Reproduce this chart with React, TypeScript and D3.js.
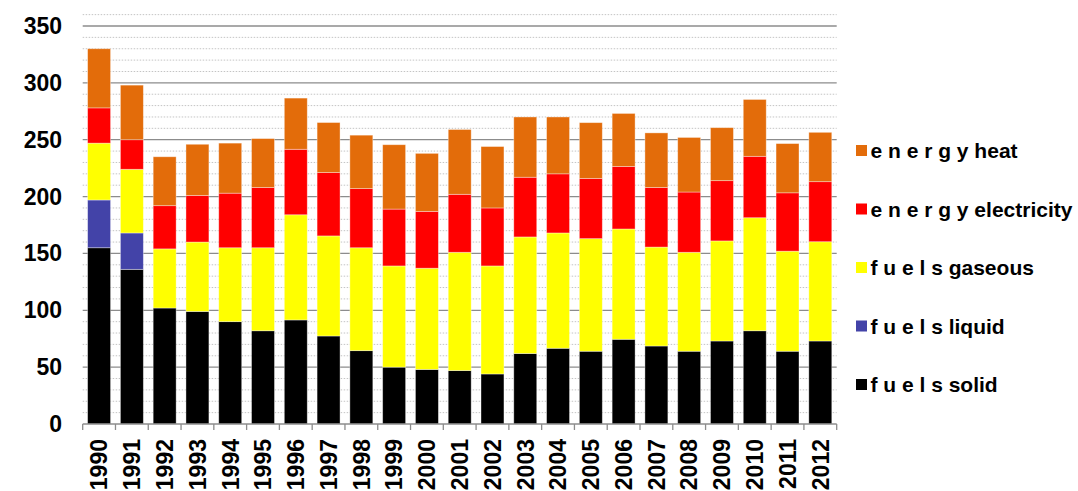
import React from "react";
import * as d3 from "d3";

const years = ["1990","1991","1992","1993","1994","1995","1996","1997","1998","1999","2000","2001","2002","2003","2004","2005","2006","2007","2008","2009","2010","2011","2012"];
const fuelsSolid = [155, 136, 102, 99, 90, 82, 91.5, 77.4, 64.5, 50, 48, 47, 44, 62, 66.6, 64, 74.5, 68.6, 64, 73, 82, 64, 73];
const fuelsLiquid = [42, 32, 0, 0, 0, 0, 0, 0, 0, 0, 0, 0, 0, 0, 0, 0, 0, 0, 0, 0, 0, 0, 0];
const fuelsGaseous = [50, 56, 52, 61, 65, 73, 92.5, 88, 90.5, 89, 89, 104, 95, 102.5, 101.4, 99, 97, 87, 87, 88, 99.4, 88, 87.3];
const energyElectricity = [31, 26, 38, 41, 48, 53, 57.6, 55.7, 52, 50, 50, 51, 51, 52.5, 52, 53, 55, 52.4, 53, 53, 54, 51.3, 52.8];
const energyHeat = [52, 48, 43, 45, 44, 43, 45, 44, 47, 56.6, 51, 57, 54, 53, 50, 49, 46.6, 48, 48, 46.6, 50, 43.3, 43.4];
const yTicks = [0, 50, 100, 150, 200, 250, 300, 350];

const seriesKeys = ["solid", "liquid", "gaseous", "electricity", "heat"];
const seriesColors: Record<string, string> = {
  solid: "#000000",
  liquid: "#4343A8",
  gaseous: "#FFFF00",
  electricity: "#FF0000",
  heat: "#E36C0A",
};
const legendItems = [
  { key: "heat", label: "e n e r g y heat" },
  { key: "electricity", label: "e n e r g y electricity" },
  { key: "gaseous", label: "f u e l s gaseous" },
  { key: "liquid", label: "f u e l s liquid" },
  { key: "solid", label: "f u e l s solid" },
];

export default function App() {
  const W = 1078, H = 491;
  const left = 82.7, right = 836.7, y0 = 424, y350 = 26;
  const font = "'Liberation Sans', Arial, sans-serif";

  const table = years.map((yr, i) => ({
    year: yr,
    solid: fuelsSolid[i],
    liquid: fuelsLiquid[i],
    gaseous: fuelsGaseous[i],
    electricity: energyElectricity[i],
    heat: energyHeat[i],
  }));

  const x = d3.scaleBand<string>().domain(years).range([left, right]).paddingInner(0.3).paddingOuter(0.15);
  const y = d3.scaleLinear().domain([0, 350]).range([y0, y350]);
  const stacked = d3.stack<any>().keys(seriesKeys)(table);

  const minor = d3.range(10, 361, 10).filter((v) => v % 50 !== 0);
  const step = x.step();
  const boundaries = d3.range(0, years.length + 1).map((i) => left + i * step);

  return (
    <svg width={W} height={H} style={{ position: "absolute", left: 0, top: 0, background: "#fff" }}>
      {minor.map((v) => (
        <line key={"m" + v} x1={left} x2={right} y1={y(v)} y2={y(v)} stroke="#c4c4c4" strokeWidth={1} strokeDasharray="1.5,1.5" />
      ))}
      {yTicks.filter((v) => v > 0).map((v) => (
        <line key={"g" + v} x1={left} x2={right} y1={y(v)} y2={y(v)} stroke="#8c8c8c" strokeWidth={1.3} />
      ))}
      {stacked.map((s) => (
        <g key={s.key} fill={seriesColors[s.key]}>
          {s.map((d, i) =>
            d[1] - d[0] > 0 ? (
              <rect key={i} x={x(years[i])!} width={x.bandwidth()} y={y(d[1])} height={y(d[0]) - y(d[1])}
                stroke="rgba(255,255,255,0.45)" strokeWidth={0.8} />
            ) : null
          )}
        </g>
      ))}
      <line x1={left} x2={right} y1={y0} y2={y0} stroke="#8c8c8c" strokeWidth={1.5} />
      {boundaries.map((bx, i) => (
        <line key={"t" + i} x1={bx} x2={bx} y1={y0} y2={y0 + 6} stroke="#8c8c8c" strokeWidth={1.3} />
      ))}
      {yTicks.map((v) => (
        <text key={"yl" + v} x={62} y={y(v)} dy="0.35em" textAnchor="end" fontFamily={font} fontWeight="bold" fontSize={23} fill="#000">
          {v}
        </text>
      ))}
      {years.map((yr) => {
        const cx = x(yr)! + x.bandwidth() / 2;
        return (
          <text key={"xl" + yr} transform={`translate(${cx},439) rotate(-90)`} dy="0.36em" textAnchor="end" fontFamily={font} fontWeight="bold" fontSize={23} fill="#000">
            {yr}
          </text>
        );
      })}
      {legendItems.map((it, i) => {
        const cy = 150.5 + i * 58.5;
        return (
          <g key={it.key}>
            <rect x={856} y={cy - 5.5} width={11} height={11} fill={seriesColors[it.key]} />
            <text x={870.5} y={cy} dy="0.36em" fontFamily={font} fontWeight="bold" fontSize={21} fill="#000">
              {it.label}
            </text>
          </g>
        );
      })}
    </svg>
  );
}
